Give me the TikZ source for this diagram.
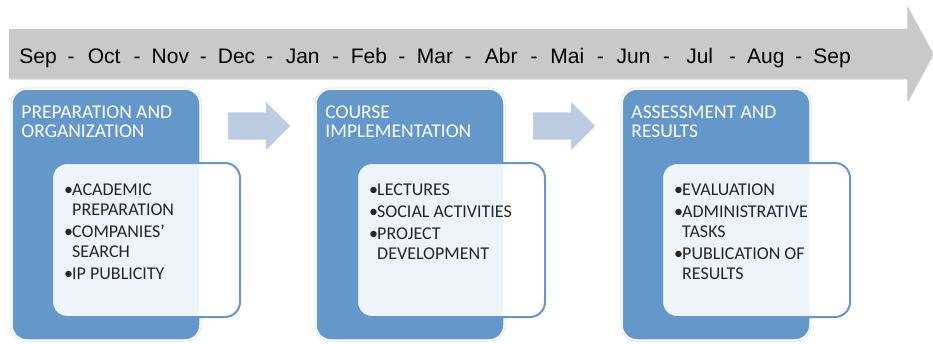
\documentclass[tikz,border=0pt]{standalone}
\usepackage{fontspec}
\setmainfont{Carlito}
\newfontfamily\arialfont{Liberation Sans}
\usepackage{tikz}
\usetikzlibrary{shapes.arrows, positioning, shadows}

\definecolor{phaseblue}{HTML}{6497CA}
\definecolor{arrowgray}{HTML}{C9C9C9}
\definecolor{stepblue}{HTML}{BCCCE2}

\newcommand{\bitem}{\makebox[8pt][l]{\textbullet}}
\newcommand{\bcont}{\hspace*{8pt}}

\begin{document}
\begin{tikzpicture}[x=1pt, y=-1pt]
      \tikzstyle{timeline} = [
        single arrow,
        fill=arrowgray,
        anchor = tail,
        minimum height = 924pt,
        single arrow head extend = 23pt,
        single arrow tip angle = 123,
        inner xsep = 0pt,
        inner ysep = 24.5pt,
        drop shadow={shadow xshift=0.5pt, shadow yshift=-1.5pt, opacity=0.35}
      ]

      \tikzstyle{month} = [
        font=\arialfont\fontsize{21}{24}\selectfont,
        anchor = base,
        inner sep = 0pt
      ]

      \tikzstyle{flowarrow} = [
        single arrow,
        fill=stepblue,
        anchor = tail,
        minimum height = 62pt,
        single arrow head extend = 10.5pt,
        inner xsep = 0pt,
        inner ysep = 13.5pt
      ]

      \tikzstyle{phase} = [
        rectangle,
        draw=white,
        line width = 1.5pt,
        fill=phaseblue,
        rounded corners = 15pt,
        minimum width = 188pt,
        minimum height = 251pt,
        preaction={draw=gray!25, line width=3pt}
      ]

      \tikzstyle{tasks} = [
        rectangle,
        draw=phaseblue,
        line width = 2pt,
        fill=white,
        fill opacity = 0.9,
        rounded corners = 15pt,
        minimum width = 188pt,
        minimum height = 154pt
      ]

      \tikzstyle{title} = [
        text=white,
        font=\fontsize{19.5}{19}\selectfont,
        align=left,
        inner sep = 0pt
      ]

      \tikzstyle{tasklist} = [
        text=black!85,
        font=\fontsize{18}{20}\selectfont,
        align=left,
        inner sep = 0pt
      ]

      \useasboundingbox (0,0) rectangle (933,343);

      \node[timeline] (time) at (9,53.5) {};
      \foreach \m [count=\i from 0] in {Sep,Oct,Nov,Dec,Jan,Feb,Mar,Abr,Mai,Jun,Jul,Aug,Sep}
        \node[month] (m\i) at ({38+66.17*\i},63) {\m};
      \foreach \i in {0,...,11}
        \node[month] (d\i) at ({71+66.17*\i},63) {-};

      \node[phase] (prep) at (106,214.5) {};
      \node[phase] (course) at (410,214.5) {};
      \node[phase] (assess) at (716,214.5) {};

      \node[flowarrow] (step1) at (228,126) {};
      \node[flowarrow] (step2) at (533,126) {};

      \node[tasks] (preptasks) at (146,240) {};
      \node[tasks] (coursetasks) at (451,240) {};
      \node[tasks] (assesstasks) at (756,240) {};

      \node[title, below right=17pt and 10pt of prep.north west] (preptitle)
      {PREPARATION AND\\ORGANIZATION};
      \node[title, below right=17pt and 10pt of course.north west] (coursetitle)
      {COURSE\\IMPLEMENTATION};
      \node[title, below right=17pt and 10pt of assess.north west] (assesstitle)
      {ASSESSMENT AND\\RESULTS};

      \node[tasklist, below right=22pt and 13pt of preptasks.north west] (preplist)
      {\bitem ACADEMIC\\\bcont PREPARATION\\[2pt]\bitem COMPANIES’\\\bcont
      SEARCH\\[2pt]\bitem IP PUBLICITY};
      \node[tasklist, below right=22pt and 13pt of coursetasks.north west] (courselist)
      {\bitem LECTURES\\[2pt]\bitem SOCIAL ACTIVITIES\\[2pt]\bitem PROJECT\\\bcont
      DEVELOPMENT};
      \node[tasklist, below right=22pt and 13pt of assesstasks.north west] (assesslist)
      {\bitem EVALUATION\\[2pt]\bitem ADMINISTRATIVE\\\bcont TASKS\\[2pt]\bitem
      PUBLICATION OF\\\bcont RESULTS};
    \end{tikzpicture}
\end{document}
